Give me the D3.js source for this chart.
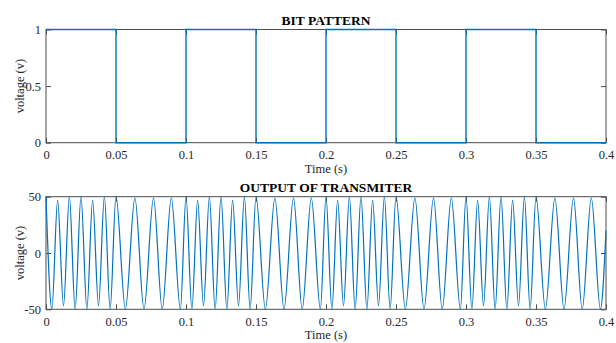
<!DOCTYPE html>
<html>
<head>
<meta charset="utf-8">
<script src="https://cdn.jsdelivr.net/npm/d3@7/dist/d3.min.js"></script>
<style>
  body { margin: 0; background: #fff; }
  text { font-family: "Liberation Serif", "Times New Roman", serif; fill: #262626; }
</style>
</head>
<body>
<div id="chart"></div>
<script>
// bit pattern (step values, last entry closes the final bit at 0.4 s)
const bitTimes = [0, 0.05, 0.1, 0.15, 0.2, 0.25, 0.3, 0.35, 0.4];
const bitValues = [1, 0, 1, 0, 1, 0, 1, 0, 0];

// transmitter output, peaks and troughs
const outTimes = [
  0, 0.0042, 0.0083, 0.0125, 0.0167, 0.0208, 0.025, 0.0292, 0.0333, 0.0375, 0.0417, 0.0458,
  0.05, 0.0567, 0.0635, 0.07, 0.0768, 0.083, 0.0895, 0.096,
  0.1, 0.1042, 0.1083, 0.1125, 0.1167, 0.1208, 0.125, 0.1292, 0.1333, 0.1375, 0.1417, 0.1458,
  0.15, 0.1567, 0.1635, 0.17, 0.1768, 0.183, 0.1895, 0.196,
  0.2, 0.2042, 0.2083, 0.2125, 0.2167, 0.2208, 0.225, 0.2292, 0.2333, 0.2375, 0.2417, 0.2458,
  0.25, 0.2567, 0.2635, 0.27, 0.2768, 0.283, 0.2895, 0.296,
  0.3, 0.3042, 0.3083, 0.3125, 0.3167, 0.3208, 0.325, 0.3292, 0.3333, 0.3375, 0.3417, 0.3458,
  0.35, 0.3567, 0.3635, 0.37, 0.3768, 0.383, 0.3895, 0.396,
  0.4
];
const outVolts = [
  50, -50, 47, -47, 50, -50, 50, -50, 47, -47, 50, -50,
  50, -50, 49, -50, 49, -50, 49, -50,
  50, -50, 47, -47, 50, -50, 50, -50, 47, -47, 50, -50,
  50, -50, 49, -50, 49, -50, 49, -50,
  50, -50, 47, -47, 50, -50, 50, -50, 47, -47, 50, -50,
  50, -50, 49, -50, 49, -50, 49, -50,
  50, -50, 47, -47, 50, -50, 50, -50, 47, -47, 50, -50,
  50, -50, 49, -50, 49, -50, 49, -50,
  20
];

const timeTicks = [0, 0.05, 0.1, 0.15, 0.2, 0.25, 0.3, 0.35, 0.4];
const timeTickLabels = ["0", "0.05", "0.1", "0.15", "0.2", "0.25", "0.3", "0.35", "0.4"];
const bitTicks = [0, 0.5, 1];
const bitTickLabels = ["0", "0.5", "1"];
const voltTicks = [-50, 0, 50];
const voltTickLabels = ["-50", "0", "50"];

const W = 616, H = 343;
const left = 46, right = 606;
const blue = "#0072BD";
const frameColor = "#4d4d4d";
const serif = '"Liberation Serif", "Times New Roman", serif';

const svg = d3.select("#chart").append("svg")
  .attr("width", W)
  .attr("height", H);

const x = d3.scaleLinear().domain([0, 0.4]).range([left, right]);

function panel(top, bottom, yDomain, yTicks, yLabels, title, titleY) {
  const y = d3.scaleLinear().domain(yDomain).range([bottom, top]);
  const g = svg.append("g");

  const fmt = (ticks, labels) => d => labels[ticks.indexOf(d)];

  // bottom + top
  g.append("g")
    .attr("transform", "translate(0," + bottom + ")")
    .call(d3.axisBottom(x).tickValues(timeTicks).tickFormat(fmt(timeTicks, timeTickLabels))
      .tickSizeInner(-5).tickSizeOuter(0).tickPadding(7.5));
  g.append("g")
    .attr("transform", "translate(0," + top + ")")
    .call(d3.axisTop(x).tickValues(timeTicks).tickFormat("")
      .tickSizeInner(-5).tickSizeOuter(0));
  // left + right
  g.append("g")
    .attr("transform", "translate(" + left + ",0)")
    .call(d3.axisLeft(y).tickValues(yTicks).tickFormat(fmt(yTicks, yLabels))
      .tickSizeInner(-5).tickSizeOuter(0).tickPadding(5));
  g.append("g")
    .attr("transform", "translate(" + right + ",0)")
    .call(d3.axisRight(y).tickValues(yTicks).tickFormat("")
      .tickSizeInner(-5).tickSizeOuter(0));

  g.selectAll(".domain").remove();
  g.selectAll(".tick line").attr("stroke", frameColor);
  g.selectAll(".tick text")
    .attr("font-family", serif)
    .attr("font-size", 12.5)
    .attr("fill", "#262626");

  g.append("rect")
    .attr("x", left)
    .attr("y", top)
    .attr("width", right - left)
    .attr("height", bottom - top)
    .attr("fill", "none")
    .attr("stroke", frameColor)
    .attr("stroke-width", 1);

  g.append("text")
    .attr("x", (left + right) / 2)
    .attr("y", bottom + 30)
    .attr("text-anchor", "middle")
    .attr("font-size", 12.5)
    .text("Time (s)");

  g.append("text")
    .attr("transform", "translate(24," + (top + bottom) / 2 + ") rotate(-90)")
    .attr("text-anchor", "middle")
    .attr("font-size", 12.5)
    .text("voltage (v)");

  g.append("text")
    .attr("x", (left + right) / 2)
    .attr("y", titleY)
    .attr("text-anchor", "middle")
    .attr("font-size", 13.5)
    .attr("font-weight", "bold")
    .style("fill", "#000")
    .text(title);

  return y;
}

const yBit = panel(29.5, 142.7, [0, 1], bitTicks, bitTickLabels, "BIT PATTERN", 25);
const yOut = panel(196.7, 309.3, [-50, 50], voltTicks, voltTickLabels, "OUTPUT OF TRANSMITER", 192);

const bitLine = d3.line()
  .x(i => x(bitTimes[i]))
  .y(i => yBit(bitValues[i]))
  .curve(d3.curveStepAfter);

svg.append("path")
  .datum(d3.range(bitTimes.length))
  .attr("d", bitLine)
  .attr("fill", "none")
  .attr("stroke", blue)
  .attr("stroke-width", 1.4);

const outLine = d3.line()
  .x(i => x(outTimes[i]))
  .y(i => yOut(outVolts[i]))
  .curve(d3.curveMonotoneX);

svg.append("path")
  .datum(d3.range(outTimes.length))
  .attr("d", outLine)
  .attr("fill", "none")
  .attr("stroke", blue)
  .attr("stroke-width", 1.2);
</script>
</body>
</html>
